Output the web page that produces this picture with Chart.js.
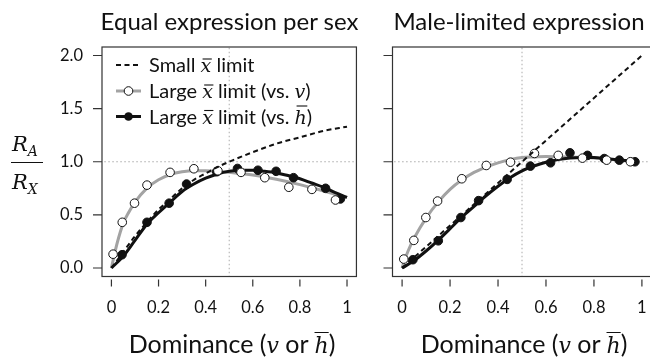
<!DOCTYPE html>
<html><head><meta charset="utf-8">
<script src="https://cdn.jsdelivr.net/npm/chart.js@4.4.1/dist/chart.umd.min.js"></script>
<style>
html,body{margin:0;padding:0;width:650px;height:360px;overflow:hidden;background:#fff;font-family:Lato,sans-serif;color:#111;position:relative}
canvas{position:absolute;top:0}
.t{position:absolute;white-space:nowrap;transform:translateX(-50%)}
.tt{font-size:24px;line-height:24px;top:9px}
.xt{font-size:25px;line-height:25px;top:331px}
.m{font-family:"DejaVu Serif",serif;font-style:italic;font-size:22px}
.ob{text-decoration:overline;text-decoration-thickness:1.2px}
.yl{position:absolute;font-family:"DejaVu Serif",serif;font-style:italic;font-size:21px;line-height:21px;white-space:nowrap}
.yl sub{font-size:14px;vertical-align:-5px;line-height:0}
</style></head><body>
<canvas id="c1" width="365" height="360" style="left:0"></canvas>
<canvas id="c2" width="300" height="360" style="left:365px"></canvas>
<div class="t tt" style="left:229.5px">Equal expression per sex</div>
<div class="t tt" style="left:519px">Male-limited expression</div>
<div class="t xt" style="left:232px">Dominance (<span class="m">v</span> or <span class="m ob">h</span>)</div>
<div class="t xt" style="left:524px">Dominance (<span class="m">v</span> or <span class="m ob">h</span>)</div>
<div class="yl" style="left:12px;top:134px">R<sub>A</sub></div>
<div style="position:absolute;left:11px;top:162px;width:32px;height:0;border-top:1.6px solid #111"></div>
<div class="yl" style="left:12px;top:172px">R<sub>X</sub></div>
<script>
// ---------- data ----------
const xTickValues = [0, 0.2, 0.4, 0.6, 0.8, 1];
const xTickLabels = ['0', '0.2', '0.4', '0.6', '0.8', '1'];
const yTickValues = [0, 0.5, 1, 1.5, 2];
const yTickLabels = ['0.0', '0.5', '1.0', '1.5', '2.0'];
const refX = 0.5, refY = 1.0;
const legendLabels = ['Small x̄ limit', 'Large x̄ limit (vs. v)', 'Large x̄ limit (vs. h̄)'];

// Left panel: equal expression per sex
const leftSmallX = [0, 0.05, 0.1, 0.15, 0.2, 0.25, 0.3, 0.35, 0.4, 0.45, 0.5, 0.6, 0.7, 0.8, 0.9, 1.0];
const leftSmallY = [0, 0.15, 0.30, 0.43, 0.55, 0.65, 0.75, 0.83, 0.89, 0.95, 1.0, 1.09, 1.17, 1.23, 1.29, 1.33];
const leftGrayX = [0, 0.01, 0.025, 0.05, 0.075, 0.1, 0.15, 0.2, 0.25, 0.3, 0.35, 0.4, 0.45, 0.5, 0.6, 0.7, 0.8, 0.9, 1.0];
const leftGrayY = [0, 0.1, 0.24, 0.42, 0.53, 0.62, 0.75, 0.83, 0.88, 0.905, 0.915, 0.915, 0.91, 0.9, 0.875, 0.835, 0.785, 0.725, 0.665];
const leftBlackX = [0, 0.05, 0.1, 0.15, 0.2, 0.25, 0.3, 0.35, 0.4, 0.45, 0.5, 0.55, 0.6, 0.65, 0.7, 0.75, 0.8, 0.85, 0.9, 0.95, 1.0];
const leftBlackY = [0, 0.11, 0.26, 0.41, 0.52, 0.62, 0.72, 0.79, 0.845, 0.885, 0.91, 0.92, 0.92, 0.91, 0.895, 0.87, 0.84, 0.80, 0.76, 0.71, 0.665];
const leftOpenX = [0.007, 0.046, 0.098, 0.151, 0.249, 0.35, 0.452, 0.55, 0.651, 0.753, 0.851, 0.951];
const leftOpenY = [0.13, 0.43, 0.61, 0.78, 0.90, 0.934, 0.915, 0.90, 0.85, 0.76, 0.74, 0.64];
const leftFillX = [0.045, 0.151, 0.245, 0.319, 0.447, 0.535, 0.622, 0.699, 0.773, 0.909, 0.972];
const leftFillY = [0.125, 0.43, 0.61, 0.79, 0.906, 0.937, 0.92, 0.91, 0.85, 0.75, 0.65];

// Right panel: male-limited expression
const rightSmallX = [0, 0.5, 1.0];
const rightSmallY = [0, 1.0, 2.0];
const rightGrayX = [0, 0.01, 0.025, 0.05, 0.1, 0.15, 0.2, 0.25, 0.3, 0.35, 0.4, 0.45, 0.5, 0.55, 0.6, 0.7, 0.8, 0.9, 0.98];
const rightGrayY = [0, 0.07, 0.16, 0.28, 0.47, 0.62, 0.74, 0.83, 0.90, 0.95, 0.99, 1.02, 1.04, 1.045, 1.05, 1.045, 1.035, 1.015, 1.0];
const rightBlackX = [0, 0.05, 0.1, 0.15, 0.2, 0.25, 0.3, 0.35, 0.4, 0.45, 0.5, 0.55, 0.6, 0.65, 0.7, 0.75, 0.8, 0.85, 0.9, 0.95, 0.985];
const rightBlackY = [0, 0.07, 0.16, 0.26, 0.37, 0.48, 0.58, 0.68, 0.77, 0.85, 0.915, 0.96, 0.995, 1.02, 1.035, 1.04, 1.04, 1.03, 1.02, 1.005, 0.995];
const rightOpenX = [0.007, 0.049, 0.099, 0.148, 0.249, 0.351, 0.452, 0.552, 0.651, 0.752, 0.853, 0.952];
const rightOpenY = [0.084, 0.26, 0.475, 0.63, 0.84, 0.965, 0.996, 1.078, 1.06, 1.034, 1.015, 1.0];
const rightFillX = [0.045, 0.151, 0.245, 0.319, 0.438, 0.535, 0.619, 0.70, 0.773, 0.843, 0.906, 0.971];
const rightFillY = [0.078, 0.256, 0.475, 0.634, 0.834, 0.959, 0.99, 1.084, 1.06, 1.03, 1.015, 1.0];

// ---------- helpers ----------
Chart.defaults.font.family = 'Lato';
Chart.defaults.color = '#111';
const pts = (xs, ys) => xs.map((x, i) => ({ x: x, y: ys[i] }));
const GRAY = '#a3a3a3';

function datasets(sx, sy, gx, gy, bx, by, ox, oy, fx, fy) {
  return [
    { data: pts(sx, sy), showLine: true, borderColor: '#111', borderWidth: 2, borderDash: [5, 3.5], pointRadius: 0, order: 0, cubicInterpolationMode: 'monotone' },
    { data: pts(ox, oy), showLine: false, pointRadius: 4.3, pointBackgroundColor: '#fff', pointBorderColor: '#111', pointBorderWidth: 1, order: 1 },
    { data: pts(fx, fy), showLine: false, pointRadius: 4.3, pointBackgroundColor: '#111', pointBorderColor: '#111', pointBorderWidth: 1, order: 2 },
    { data: pts(bx, by), showLine: true, borderColor: '#111', borderWidth: 3, pointRadius: 0, order: 3, cubicInterpolationMode: 'monotone' },
    { data: pts(gx, gy), showLine: true, borderColor: GRAY, borderWidth: 3, pointRadius: 0, order: 4, cubicInterpolationMode: 'monotone' },
    { data: [{ x: refX, y: -0.2 }, { x: refX, y: 2.3 }], showLine: true, borderColor: '#aaa', borderWidth: 1, borderDash: [1.5, 2.5], pointRadius: 0, order: 5 },
    { data: [{ x: -0.2, y: refY }, { x: 1.2, y: refY }], showLine: true, borderColor: '#aaa', borderWidth: 1, borderDash: [1.5, 2.5], pointRadius: 0, order: 6 }
  ];
}

const framePlugin = {
  id: 'frame',
  afterDraw(chart) {
    const { ctx, chartArea: a, scales: { x, y } } = chart;
    ctx.save();
    ctx.strokeStyle = '#333';
    ctx.lineWidth = 1.2;
    ctx.strokeRect(a.left, a.top, a.right - a.left, a.bottom - a.top);
    ctx.beginPath();
    x.ticks.forEach(t => { const p = x.getPixelForValue(t.value); ctx.moveTo(p, a.bottom + 3); ctx.lineTo(p, a.bottom + 10); });
    y.ticks.forEach(t => { const p = y.getPixelForValue(t.value); ctx.moveTo(a.left - 9, p); ctx.lineTo(a.left, p); });
    ctx.stroke();
    ctx.restore();
  }
};

const LF = 20;
function richText(ctx, x, y, parts) {
  parts.forEach(p => {
    ctx.font = p.m ? 'italic ' + (LF - 1) + 'px "DejaVu Serif"' : LF + 'px Lato';
    ctx.fillText(p.t, x, y);
    const w = ctx.measureText(p.t).width;
    if (p.bar) {
      ctx.beginPath();
      ctx.lineWidth = 1.1;
      ctx.moveTo(x + 2, y - p.bar); ctx.lineTo(x + w + 0.5, y - p.bar);
      ctx.stroke();
    }
    x += w;
  });
}

const legendPlugin = {
  id: 'legendR',
  afterDraw(chart) {
    const ctx = chart.ctx;
    ctx.save();
    ctx.fillStyle = '#111';
    ctx.strokeStyle = '#111';
    ctx.textBaseline = 'alphabetic';
    const rows = [65, 91, 116.5];
    const x0 = 116, x1 = 141, tx = 149;
    ctx.lineWidth = 2; ctx.setLineDash([5, 3.5]);
    ctx.beginPath(); ctx.moveTo(x0, rows[0]); ctx.lineTo(x1, rows[0]); ctx.stroke();
    ctx.setLineDash([]);
    ctx.strokeStyle = GRAY; ctx.lineWidth = 3;
    ctx.beginPath(); ctx.moveTo(x0, rows[1]); ctx.lineTo(x1, rows[1]); ctx.stroke();
    ctx.strokeStyle = '#111'; ctx.lineWidth = 1; ctx.fillStyle = '#fff';
    ctx.beginPath(); ctx.arc((x0 + x1) / 2, rows[1], 4.3, 0, Math.PI * 2); ctx.fill(); ctx.stroke();
    ctx.lineWidth = 3;
    ctx.beginPath(); ctx.moveTo(x0, rows[2]); ctx.lineTo(x1, rows[2]); ctx.stroke();
    ctx.fillStyle = '#111';
    ctx.beginPath(); ctx.arc((x0 + x1) / 2, rows[2], 4.3, 0, Math.PI * 2); ctx.fill();
    const parse = s => {
      const out = [];
      let buf = '';
      for (let i = 0; i < s.length; i++) {
        const c = s[i], n = s[i + 1];
        if ((c === 'x' || c === 'h') && n === '\u0304') {
          if (buf) out.push({ t: buf }); buf = '';
          out.push({ t: c, m: true, bar: c === 'x' ? 13 : 17.5 }); i++;
        } else if (c === 'v' && s[i - 1] === ' ' && n === ')') {
          if (buf) out.push({ t: buf }); buf = '';
          out.push({ t: c, m: true });
        } else buf += c;
      }
      if (buf) out.push({ t: buf });
      return out;
    };
    ctx.fillStyle = '#111';
    ctx.strokeStyle = '#111';
    legendLabels.forEach((l, i) => richText(ctx, tx, rows[i] + 7, parse(l)));
    ctx.restore();
  }
};

function makeChart(id, ds, opts) {
  return new Chart(document.getElementById(id), {
    type: 'scatter',
    data: { datasets: ds },
    plugins: opts.legend ? [framePlugin, legendPlugin] : [framePlugin],
    options: {
      responsive: false,
      animation: false,
      events: [],
      layout: { padding: { left: 0, right: opts.padRight, top: 47, bottom: 0 } },
      plugins: { legend: { display: false }, tooltip: { enabled: false } },
      scales: {
        x: {
          type: 'linear', min: -0.04, max: 1.04,
          afterBuildTicks: s => { s.ticks = xTickValues.map(v => ({ value: v })); },
          afterFit: s => { s.height = 83.5; },
          ticks: { callback: (v, i) => xTickLabels[i], font: { size: 16.5 }, padding: 13, maxRotation: 0, autoSkip: false },
          grid: { display: true, drawOnChartArea: false, drawTicks: true, tickLength: 8, color: 'rgba(0,0,0,0)' },
          border: { display: false }
        },
        y: {
          type: 'linear', min: -0.08, max: 2.08,
          afterBuildTicks: s => { s.ticks = yTickValues.map(v => ({ value: v })); },
          afterFit: s => { s.width = opts.yWidth; },
          ticks: { display: opts.yLabels, callback: (v, i) => yTickLabels[i], font: { size: 16.5 }, padding: 10, autoSkip: false },
          grid: { display: true, drawOnChartArea: false, drawTicks: true, tickLength: 9, color: 'rgba(0,0,0,0)' },
          border: { display: false }
        }
      }
    }
  });
}

makeChart('c1', datasets(leftSmallX, leftSmallY, leftGrayX, leftGrayY, leftBlackX, leftBlackY, leftOpenX, leftOpenY, leftFillX, leftFillY),
  { legend: true, padRight: 5.5, yWidth: 102, yLabels: true });
makeChart('c2', datasets(rightSmallX, rightSmallY, rightGrayX, rightGrayY, rightBlackX, rightBlackY, rightOpenX, rightOpenY, rightFillX, rightFillY),
  { legend: false, padRight: 13.5, yWidth: 27.5, yLabels: false });
</script>
</body></html>
